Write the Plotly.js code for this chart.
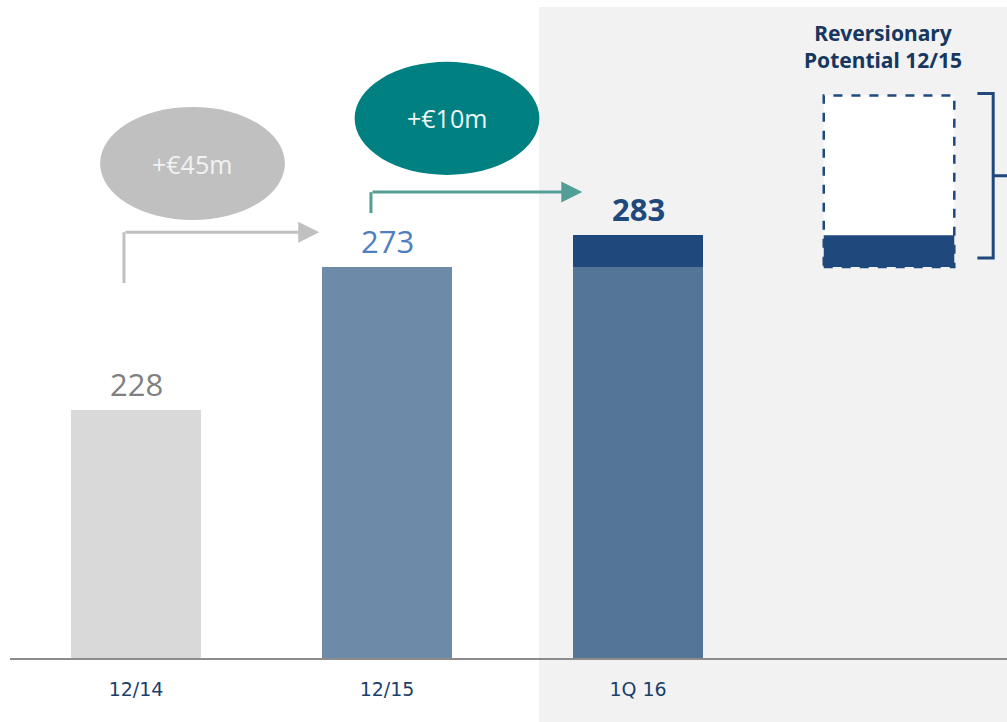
<!DOCTYPE html>
<html>
<head>
<meta charset="utf-8">
<script src="https://cdn.plot.ly/plotly-3.0.1.min.js"></script>
<style>
html,body{margin:0;padding:0;background:#ffffff;}
#chart{width:1007px;height:722px;}
</style>
</head>
<body>
<div id="chart"></div>
<script>
// ---- data ----
const categories = ['12/14', '12/15', '1Q 16'];
const baseValues = [228, 273, 273];
const addedValues = [0, 0, 10];
const totalLabels = ['228', '273', '283'];
const changeLabels = ['+€45m', '+€10m'];
const revBase = 273;        // reversionary potential box bottom
const revCaptured = 10;     // captured part (dark)
const revTop = 327;         // top of the reversionary potential box
const revTitle = 'Reversionary<br>Potential 12/15';

// ---- styling ----
const xPos = categories.map((c, i) => i);
const barW = 0.52;
const baseColors = ['#d9d9d9', '#6d8ba8', '#547596'];
const navy = '#1f497d';
const labelColors = ['#808080', '#4f7fbf', navy];
const totals = baseValues.map((v, i) => v + addedValues[i]);

const traces = [
  {
    type: 'bar', x: xPos, y: baseValues, width: barW,
    marker: {color: baseColors, line: {width: 0}},
    hoverinfo: 'skip', showlegend: false
  },
  {
    type: 'bar', x: xPos, y: addedValues, width: barW,
    marker: {color: navy, line: {width: 0}},
    hoverinfo: 'skip', showlegend: false
  }
];

const annotations = [];
totals.forEach((t, i) => {
  annotations.push({
    x: xPos[i], y: t, xref: 'x', yref: 'y', text: totalLabels[i],
    showarrow: false, yanchor: 'bottom', yshift: 3,
    font: {family: 'Open Sans, sans-serif', size: 31, color: labelColors[i], weight: i === 2 ? 'bold' : 'normal'}
  });
});

// change ellipses
const ellipseColors = ['#c0c0c0', '#008080'];
const ellipseTextColors = ['#f2f2f2', '#eef6f6'];
const ellipseCx = [0.225, 1.239];
const ellipseCy = [305.6, 319.8];
const ellipseRx = 0.368;
const ellipseRy = 17.8;

const shapes = [
  // grey panel
  {type: 'rect', xref: 'paper', yref: 'paper', x0: 0.5306, x1: 1.02, y0: -0.12, y1: 0.9894,
   fillcolor: '#f2f2f2', line: {width: 0}, layer: 'below'}
];

ellipseCx.forEach((cx, i) => {
  shapes.push({type: 'circle', xref: 'x', yref: 'y',
    x0: cx - ellipseRx, x1: cx + ellipseRx, y0: ellipseCy[i] - ellipseRy, y1: ellipseCy[i] + ellipseRy,
    fillcolor: ellipseColors[i], line: {width: 0}, layer: 'above'});
  annotations.push({x: cx, y: ellipseCy[i], xref: 'x', yref: 'y', text: changeLabels[i],
    showarrow: false, font: {family: 'Open Sans, sans-serif', size: 25, color: ellipseTextColors[i]}});
});

// elbow arrows
const arrowColors = ['#c0c0c0', '#559e98'];
const arrowX0 = [xPos[0] - 0.048, xPos[1] - 0.064];
const arrowX1 = [xPos[1] - 0.27, xPos[2] - 0.222];
const arrowYLow = [268, 290];
const arrowYHigh = [284, 296.6];
arrowX0.forEach((x0, i) => {
  shapes.push({type: 'line', xref: 'x', yref: 'y', x0: x0, x1: x0, y0: arrowYLow[i], y1: arrowYHigh[i],
    line: {color: arrowColors[i], width: 3}});
  annotations.push({x: arrowX1[i], y: arrowYHigh[i], ax: x0, ay: arrowYHigh[i],
    xref: 'x', yref: 'y', axref: 'x', ayref: 'y', text: '', showarrow: true,
    arrowhead: 2, arrowsize: 1.4, arrowwidth: 3, arrowcolor: arrowColors[i]});
});

// reversionary potential box
const revX = 3;
shapes.push({type: 'rect', xref: 'x', yref: 'y', x0: revX - barW / 2, x1: revX + barW / 2,
  y0: revBase, y1: revTop, fillcolor: '#ffffff', line: {width: 0}, layer: 'above'});
shapes.push({type: 'rect', xref: 'x', yref: 'y', x0: revX - barW / 2, x1: revX + barW / 2,
  y0: revBase, y1: revBase + revCaptured, fillcolor: navy, line: {width: 0}, layer: 'above'});
shapes.push({type: 'rect', xref: 'x', yref: 'y', x0: revX - barW / 2, x1: revX + barW / 2,
  y0: revBase, y1: revTop, fillcolor: 'rgba(0,0,0,0)', line: {color: navy, width: 2.5, dash: 'dash'}, layer: 'above'});
annotations.push({x: revX - 0.025, y: revTop, xref: 'x', yref: 'y', text: '<b>' + revTitle + '</b>',
  showarrow: false, yanchor: 'bottom', yshift: 20,
  font: {family: 'Noto Sans, sans-serif', size: 21, color: '#17375e'}});

// bracket
const bx0 = 3.352, bx1 = 3.415, bx2 = 3.48;
const byT = revTop + 0.6, byB = revBase + 2.9, byM = (byT + byB) / 2;
shapes.push({type: 'path', xref: 'x', yref: 'y',
  path: `M ${bx0},${byT} L ${bx1},${byT} L ${bx1},${byB} L ${bx0},${byB} M ${bx1},${byM} L ${bx2},${byM}`,
  line: {color: navy, width: 3}});

const layout = {
  width: 1007, height: 722,
  margin: {l: 10, r: 0, t: 0, b: 64},
  paper_bgcolor: 'rgba(0,0,0,0)',
  plot_bgcolor: 'rgba(0,0,0,0)',
  barmode: 'stack',
  showlegend: false,
  xaxis: {
    range: [-0.502, 3.47], tickvals: xPos, ticktext: categories,
    showgrid: false, zeroline: false, showline: true, linecolor: '#8c8c8c', linewidth: 2,
    ticks: '', ticklabelstandoff: 13,
    tickfont: {family: 'DejaVu Sans, sans-serif', size: 19, color: '#1b3f6b'},
    fixedrange: true
  },
  yaxis: {
    range: [150, 357.05], visible: false, showgrid: false, zeroline: false, fixedrange: true
  },
  shapes: shapes,
  annotations: annotations
};

Plotly.newPlot('chart', traces, layout, {displayModeBar: false, staticPlot: true});
</script>
</body>
</html>
